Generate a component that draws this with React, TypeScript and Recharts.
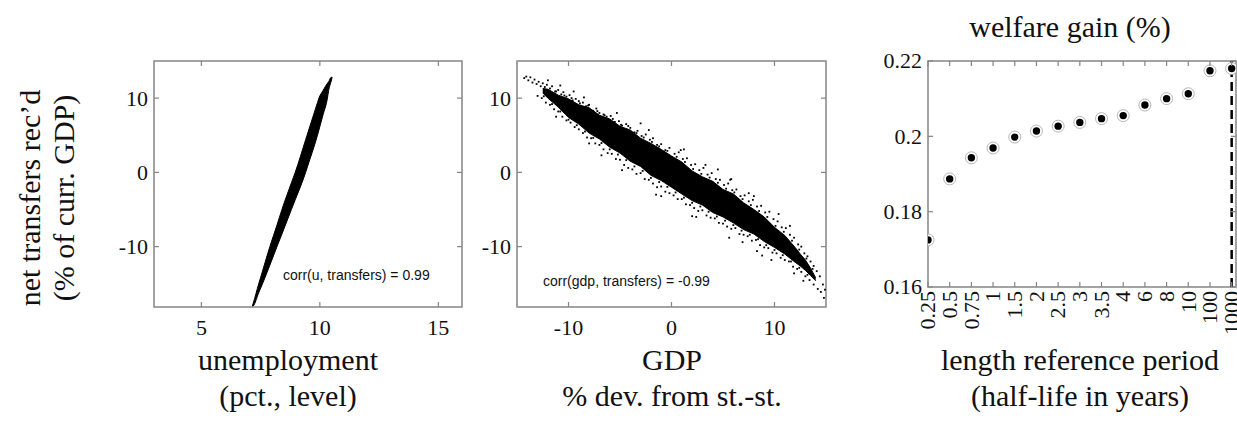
import React from "react";
import { ComposedChart, Area, Scatter, XAxis, YAxis, ReferenceLine, ReferenceArea } from "recharts";

// left panel: unemployment vs net transfers (edges of the simulated cloud)
const unempX = [7.15, 7.19, 7.42, 7.58, 7.89, 8.19, 8.4, 8.8, 8.96, 9.4, 9.46, 9.9, 9.96, 10.13, 10.32, 10.37, 10.48, 10.52];
const unempLo = [-18.1, -18.0, -16.2, -15.0, -12.5, -10.0, -8.3, -5.0, -3.7, 0.0, 0.6, 5.0, 5.7, 7.7, 10.0, 11.0, 12.3, 12.8];
const unempHi = [-18.0, -17.6, -15.0, -13.3, -10.0, -7.1, -5.0, -1.4, 0.0, 4.4, 5.0, 9.4, 10.0, 11.0, 12.0, 12.2, 12.8, 12.8];

// middle panel: gdp vs net transfers, dense core of the cloud
const gdpX = [-12.5, -12, -11, -10, -9, -8, -7, -6, -5, -4, -3, -2, -1, 0, 1, 2, 3, 4, 5, 6, 7, 8, 9, 10, 11, 12, 12.5, 13, 13.5, 14];
const gdpLo = [10.7, 10.0, 8.8, 7.4, 6.5, 5.3, 4.5, 3.4, 2.6, 1.5, 0.8, -0.4, -1.1, -2.0, -2.9, -3.8, -4.4, -5.4, -6.0, -6.8, -7.7, -8.3, -9.3, -10.1, -11.0, -12.1, -12.6, -13.2, -13.9, -14.6];
const gdpHi = [11.3, 11.2, 10.4, 9.9, 9.1, 8.7, 7.7, 7.2, 6.2, 5.7, 4.6, 3.9, 3.1, 2.2, 1.4, 0.2, -0.6, -1.2, -2.3, -2.9, -4.1, -5.0, -6.0, -7.4, -8.5, -10.1, -11.0, -11.8, -12.9, -14.2];

// loose points around the core: outer row above, outer row below, near rows, far ones
const strayX = [
  -14.3, -14.1, -13.9, -13.7, -13.5, -13.3, -13.1, -12.9, -12.7, -12.5, -12.3, -12.1, -11.8, -11.6, -11.3, -11.0, -10.7, -10.5, -10.2, -9.9,
  -9.6, -9.3, -9.0, -8.6, -8.3, -8.0, -7.6, -7.3, -7.0, -6.6, -6.3, -5.9, -5.5, -5.1, -4.8, -4.4, -4.0, -3.6, -3.3, -2.9,
  -2.5, -2.1, -1.8, -1.4, -1.0, -0.6, -0.2, 0.3, 0.7, 1.1, 1.5, 1.9, 2.3, 2.7, 3.1, 3.5, 3.9, 4.3, 4.7, 5.1,
  5.5, 5.9, 6.3, 6.7, 7.1, 7.5, 7.9, 8.3, 8.7, 9.1, 9.5, 9.9, 10.3, 10.7, 11.1, 11.5, 11.9, 12.3, 12.6, 12.9,
  13.2, 13.5, 13.8, 14.1, 14.4, 14.7, 14.9,
  -13.0, -12.6, -12.2, -11.8, -11.4, -11.0, -10.6, -10.2, -9.8, -9.4, -9.0, -8.6, -8.2, -7.8, -7.4, -7.0, -6.6, -6.2, -5.8, -5.4,
  -5.0, -4.6, -4.2, -3.8, -3.4, -3.0, -2.6, -2.2, -1.8, -1.4, -1.0, -0.6, -0.2, 0.2, 0.6, 1.0, 1.4, 1.8, 2.2, 2.6,
  3.0, 3.4, 3.8, 4.2, 4.6, 5.0, 5.4, 5.8, 6.2, 6.6, 7.0, 7.4, 7.8, 8.2, 8.6, 9.0, 9.4, 9.8, 10.2, 10.6,
  11.0, 11.4, 11.8, 12.2, 12.6, 13.0, 13.4, 13.8, 14.2, 14.5, 14.8,
  -11.2, -10.4, -9.7, -8.9, -8.1, -7.2, -6.5, -5.7, -4.9, -4.2, -3.4, -2.7, -1.9, -1.2, -0.4, 0.5, 1.3, 2.1, 2.9, 3.7,
  4.5, 5.3, 6.1, 6.9, 7.7, 8.5, 9.3, 10.1, 10.9, 11.7, 12.4, 13.1, 13.7,
  -12.4, -11.6, -10.8, -10.0, -9.2, -8.4, -7.6, -6.8, -6.0, -5.2, -4.4, -3.6, -2.8, -2.0, -1.2, -0.4, 0.4, 1.2, 2.0, 2.8,
  3.6, 4.4, 5.2, 6.0, 6.8, 7.6, 8.4, 9.2, 10.0, 10.8, 11.6, 12.4, 13.2,
  -3.0, 2.0, 7.5, 11.5, 9.7, -9.5, -6.8, 4.5, 12.8, 6.9, -12.0, -1.5, 1.2, 8.3, 5.8,
  -10.8, -8.5, -5.3, -2.2, 0.9, 3.3, 5.7, 8.0, 10.4, -11.2, -8.0, -4.8, -1.0, 2.4, 5.6, 8.8, 11.9,
];
const strayY = [
  12.7, 12.9, 12.4, 12.8, 12.1, 12.5, 11.9, 12.2, 11.6, 12.0, 11.5, 11.8, 11.3, 11.6, 10.9, 11.1, 10.5, 10.8, 10.2, 10.4,
  9.7, 9.9, 9.6, 9.4, 8.9, 9.1, 8.3, 8.6, 8.0, 7.8, 7.5, 7.6, 6.8, 6.9, 6.3, 6.5, 6.0, 5.4, 5.6, 4.9,
  5.1, 4.4, 4.6, 3.7, 3.8, 3.0, 3.3, 2.5, 2.7, 1.8, 1.9, 1.0, 1.1, 0.3, 0.6, -0.3, -0.1, -0.9, -1.0, -1.7,
  -1.5, -2.4, -2.3, -3.2, -3.1, -3.9, -3.7, -4.6, -4.5, -5.4, -5.3, -6.3, -6.6, -7.4, -7.5, -8.4, -8.8, -9.7, -10.0, -10.9,
  -11.3, -12.0, -12.6, -13.3, -14.0, -15.1, -15.8,
  10.3, 10.0, 9.4, 9.1, 8.5, 8.2, 7.5, 7.0, 6.7, 6.1, 5.8, 5.3, 4.7, 4.6, 3.9, 3.7, 3.1, 2.6, 2.5, 1.8,
  1.7, 1.0, 0.6, 0.4, -0.2, -0.1, -0.9, -1.0, -1.5, -2.0, -1.9, -2.6, -2.8, -3.1, -3.6, -3.6, -4.3, -4.4, -4.8, -5.2,
  -5.1, -5.8, -6.1, -6.2, -6.8, -6.9, -7.3, -7.6, -7.5, -8.3, -8.4, -8.6, -9.2, -9.1, -9.8, -10.1, -10.2, -10.8, -10.9, -11.5,
  -11.8, -12.0, -12.7, -13.0, -13.4, -14.0, -14.5, -15.1, -15.7, -16.1, -16.9,
  10.9, 10.35, 10.0, 9.3, 9.0, 8.25, 7.7, 7.2, 6.4, 6.25, 5.3, 4.7, 4.1, 3.5, 2.9, 2.1, 1.4, 0.45, -0.2, -0.7,
  -1.4, -2.2, -2.7, -3.6, -4.4, -5.2, -6.0, -7.2, -8.0, -9.2, -10.4, -11.6, -13.0,
  10.25, 9.2, 8.2, 7.1, 6.35, 5.5, 4.65, 3.95, 3.1, 2.4, 1.65, 0.8, 0.2, -0.75, -1.3, -1.95, -2.7, -3.4, -4.1, -4.6,
  -5.3, -5.95, -6.5, -7.1, -7.85, -8.4, -9.0, -9.8, -10.45, -11.15, -12.0, -12.85, -13.8,
  6.6, -5.9, -2.8, -7.2, -11.8, 10.9, 2.3, 0.4, -14.6, -9.4, 12.4, -3.0, 3.1, -10.6, -0.9,
  11.7, 10.1, 8.0, 5.7, 3.0, 1.0, -1.0, -3.2, -5.6, 7.5, 3.9, 0.3, -3.2, -6.0, -8.8, -11.2, -13.6,
];

// right panel
const periods = ["0.25", "0.5", "0.75", "1", "1.5", "2", "2.5", "3", "3.5", "4", "6", "8", "10", "100", "1000"];
const gains = [0.1725, 0.1887, 0.1943, 0.1969, 0.1998, 0.2014, 0.2027, 0.2037, 0.2047, 0.2055, 0.2083, 0.21, 0.2113, 0.2174, 0.218];

const unempData = unempX.map((x, i) => ({ x, band: [unempLo[i], unempHi[i]] }));
const gdpData = gdpX.map((x, i) => ({ x, band: [gdpLo[i], gdpHi[i]] }));
const strayData = strayX.map((x, i) => ({ x, y: strayY[i] }));
const gainData = periods.map((p, i) => ({ idx: i, gain: gains[i] }));

const AXIS = "#858585";
const SERIF = "'Liberation Serif', 'Times New Roman', serif";
const SANS = "'Liberation Sans', Arial, sans-serif";
const TICK = 5;

const makeXTick = (plotH: number, labels?: string[]) => (props: any) => {
  const { x, y, payload } = props;
  const text = labels ? labels[payload.value] : String(payload.value);
  return (
    <g>
      <line x1={x} y1={y} x2={x} y2={y - TICK} stroke={AXIS} strokeWidth={1.2} />
      <line x1={x} y1={y - plotH} x2={x} y2={y - plotH + TICK} stroke={AXIS} strokeWidth={1.2} />
      {labels ? (
        <text transform={`translate(${x},${y + 4}) rotate(-90)`} textAnchor="end" dy="0.33em" fontFamily={SERIF} fontSize={22} fill="#111">
          {text}
        </text>
      ) : (
        <text x={x} y={y + 28} textAnchor="middle" fontFamily={SERIF} fontSize={22} fill="#111">
          {text}
        </text>
      )}
    </g>
  );
};

const makeYTick = (plotW: number) => (props: any) => {
  const { x, y, payload } = props;
  return (
    <g>
      <line x1={x} y1={y} x2={x + TICK} y2={y} stroke={AXIS} strokeWidth={1.2} />
      <line x1={x + plotW} y1={y} x2={x + plotW - TICK} y2={y} stroke={AXIS} strokeWidth={1.2} />
      <text x={x - 6} y={y} dy="0.34em" textAnchor="end" fontFamily={SERIF} fontSize={22} fill="#111">
        {String(payload.value)}
      </text>
    </g>
  );
};

const Speck = (p: any) => <rect x={p.cx - 0.9} y={p.cy - 0.9} width={1.8} height={1.8} fill="#000" />;

const Ring = (p: any) => (
  <g>
    <circle cx={p.cx} cy={p.cy} r={6} fill="#fff" stroke="#a5a5a5" strokeWidth={0.8} />
    <circle cx={p.cx} cy={p.cy} r={3.7} fill="#000" />
  </g>
);

const Y_DOM: [number, number] = [-18.13, 15];

const UnempChart = () => (
  <ComposedChart width={470} height={345} data={unempData} margin={{ top: 61, right: 8, bottom: 8, left: 104 }}>
    <XAxis dataKey="x" type="number" domain={[3, 16]} ticks={[5, 10, 15]} interval={0} allowDataOverflow
      axisLine={false} tickLine={false} tickSize={0} tickMargin={0} height={30} tick={makeXTick(246)} />
    <YAxis type="number" domain={Y_DOM} ticks={[-10, 0, 10]} interval={0} allowDataOverflow
      axisLine={false} tickLine={false} tickSize={0} tickMargin={0} width={50} tick={makeYTick(308)} />
    <Area dataKey="band" type="monotone" fill="#000" fillOpacity={1} stroke="#000" strokeWidth={1} isAnimationActive={false} />
    <ReferenceArea x1={3} x2={16} y1={Y_DOM[0]} y2={Y_DOM[1]} fill="none" stroke={AXIS} strokeWidth={1.5} />
  </ComposedChart>
);

const GdpChart = () => (
  <ComposedChart width={365} height={345} data={gdpData} margin={{ top: 61, right: 9, bottom: 8, left: 7 }}>
    <XAxis dataKey="x" type="number" domain={[-15, 15]} ticks={[-10, 0, 10]} interval={0} allowDataOverflow
      axisLine={false} tickLine={false} tickSize={0} tickMargin={0} height={30} tick={makeXTick(246)} />
    <YAxis type="number" domain={Y_DOM} ticks={[-10, 0, 10]} interval={0} allowDataOverflow
      axisLine={false} tickLine={false} tickSize={0} tickMargin={0} width={40} tick={makeYTick(309)} />
    <Area dataKey="band" type="linear" fill="#000" fillOpacity={1} stroke="#000" strokeWidth={1} isAnimationActive={false} />
    <Scatter data={strayData} dataKey="y" shape={Speck} isAnimationActive={false} />
    <ReferenceArea x1={-15} x2={15} y1={Y_DOM[0]} y2={Y_DOM[1]} fill="none" stroke={AXIS} strokeWidth={1.5} />
  </ComposedChart>
);

const GainChart = () => (
  <ComposedChart width={377} height={345} data={gainData} margin={{ top: 61, right: 1, bottom: 28, left: 8 }}>
    <XAxis dataKey="idx" type="number" domain={[0, 14.2]} ticks={periods.map((_, i) => i)} interval={0} allowDataOverflow
      axisLine={false} tickLine={false} tickSize={0} tickMargin={0} height={30} tick={makeXTick(226, periods)} />
    <YAxis type="number" domain={[0.16, 0.22]} ticks={[0.16, 0.18, 0.2, 0.22]} interval={0} allowDataOverflow
      axisLine={false} tickLine={false} tickSize={0} tickMargin={0} width={60} tick={makeYTick(308)} />
    <ReferenceLine x={14} stroke="#000" strokeWidth={2.5} strokeDasharray="9 5" />
    <Scatter dataKey="gain" shape={Ring} isAnimationActive={false} />
    <ReferenceArea x1={0} x2={14.2} y1={0.16} y2={0.22} fill="none" stroke={AXIS} strokeWidth={1.5} />
  </ComposedChart>
);

const label = { fontFamily: SERIF, fontSize: 30, fill: "#111" };

export default function App() {
  return (
    <div style={{ position: "absolute", left: 0, top: 0, width: 1237, height: 426, background: "#fff", overflow: "hidden" }}>
      <div style={{ position: "absolute", left: 0, top: 0 }}><UnempChart /></div>
      <div style={{ position: "absolute", left: 470, top: 0 }}><GdpChart /></div>
      <div style={{ position: "absolute", left: 860, top: 0 }}><GainChart /></div>
      <svg width={1237} height={426} style={{ position: "absolute", left: 0, top: 0, pointerEvents: "none" }}>
        <text transform="translate(40,198) rotate(-90)" textAnchor="middle" {...label}>net transfers rec’d</text>
        <text transform="translate(74,198) rotate(-90)" textAnchor="middle" {...label}>(% of curr. GDP)</text>
        <text x={288} y={370} textAnchor="middle" {...label}>unemployment</text>
        <text x={288} y={406} textAnchor="middle" {...label}>(pct., level)</text>
        <text x={672} y={370} textAnchor="middle" {...label}>GDP</text>
        <text x={672} y={406} textAnchor="middle" {...label}>% dev. from st.-st.</text>
        <text x={1080} y={370} textAnchor="middle" {...label}>length reference period</text>
        <text x={1080} y={406} textAnchor="middle" {...label}>(half-life in years)</text>
        <text x={1070} y={37} textAnchor="middle" {...label}>welfare gain (%)</text>
        <text x={283} y={280} fontFamily={SANS} fontSize={14} fill="#111">corr(u, transfers) = 0.99</text>
        <text x={543} y={286} fontFamily={SANS} fontSize={14} fill="#111">corr(gdp, transfers) = -0.99</text>
      </svg>
    </div>
  );
}
